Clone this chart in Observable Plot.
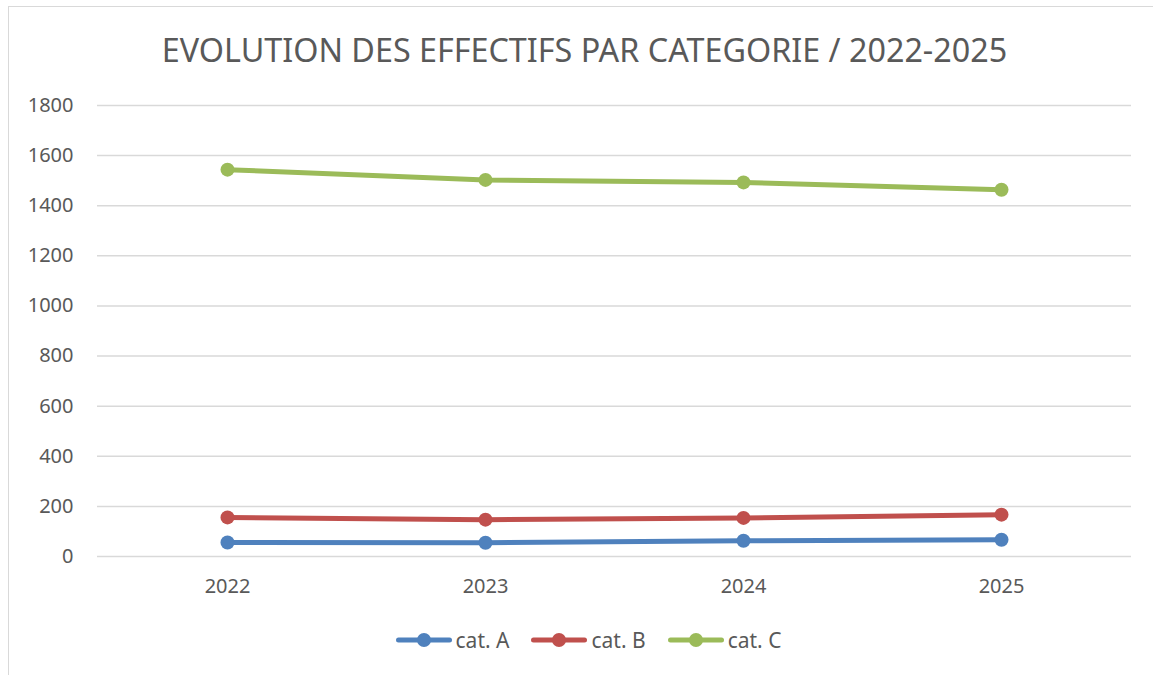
<!DOCTYPE html>
<html>
<head>
<meta charset="utf-8">
<script src="https://cdn.jsdelivr.net/npm/d3@7"></script>
<script src="https://cdn.jsdelivr.net/npm/@observablehq/plot@0.6"></script>
<style>
  html, body { margin: 0; padding: 0; background: #fff; overflow: hidden; width: 1153px; height: 675px; }
  #frame { position: absolute; left: 8px; top: 6px; width: 1300px; height: 800px; border-left: 1.5px solid #d9d9d9; border-top: 1.5px solid #d9d9d9; }
  #title { position: absolute; left: 0; width: 1169px; top: 27px; text-align: center; font-family: "Noto Sans", sans-serif; font-size: 32.3px; color: #595959; white-space: nowrap; }
  #chart { position: absolute; left: 0; top: 90px; }
  #legend { position: absolute; left: 0; width: 1177px; top: 626px; display: flex; justify-content: center; font-family: "Noto Sans", sans-serif; font-size: 21px; color: #595959; }
  .item { display: flex; align-items: center; margin: 0 11px; }
  .item svg { margin-right: 4px; }
</style>
</head>
<body>
<div id="frame"></div>
<div id="title">EVOLUTION DES EFFECTIFS PAR CATEGORIE / 2022-2025</div>
<div id="chart"></div>
<div id="legend"></div>
<script>
const years = ["2022", "2023", "2024", "2025"];
const seriesNames = ["cat. A", "cat. B", "cat. C"];
const catA = [56, 55, 63, 67];
const catB = [156, 147, 154, 167];
const catC = [1544, 1503, 1493, 1464];
const colors = ["#4f81bd", "#c0504d", "#9bbb59"];
const yTicks = [0, 200, 400, 600, 800, 1000, 1200, 1400, 1600, 1800];

const values = [catA, catB, catC];
const data = [];
values.forEach((arr, s) => arr.forEach((v, i) => data.push({series: seriesNames[s], year: years[i], value: v})));

const chart = Plot.plot({
  width: 1153,
  height: 516,
  marginLeft: 97,
  marginRight: 22,
  marginTop: 15,
  marginBottom: 50,
  style: {fontFamily: "Noto Sans, sans-serif", fontSize: "20px", color: "#595959", background: "transparent"},
  x: {type: "point", domain: years, padding: 0.5, label: null},
  y: {domain: [0, 1800], label: null},
  color: {domain: seriesNames, range: colors},
  marks: [
    Plot.ruleY(yTicks, {stroke: "#d9d9d9", strokeWidth: 1.5}),
    Plot.axisY({ticks: yTicks, tickFormat: d => String(d), tickSize: 0, tickPadding: 24, label: null, fill: "#595959"}),
    Plot.axisX({tickSize: 0, tickPadding: 22, label: null, fill: "#595959"}),
    Plot.line(data, {x: "year", y: "value", stroke: "series", z: "series", strokeWidth: 5, strokeLinecap: "round"}),
    Plot.dot(data, {x: "year", y: "value", fill: "series", r: 7})
  ]
});
document.getElementById("chart").appendChild(chart);

const legend = d3.select("#legend");
seriesNames.forEach((name, i) => {
  const item = legend.append("div").attr("class", "item");
  const svg = item.append("svg").attr("width", 56).attr("height", 20);
  svg.append("line").attr("x1", 2.5).attr("x2", 53.5).attr("y1", 10).attr("y2", 10)
    .attr("stroke", colors[i]).attr("stroke-width", 5).attr("stroke-linecap", "round");
  svg.append("circle").attr("cx", 28).attr("cy", 10).attr("r", 7).attr("fill", colors[i]);
  item.append("span").text(name);
});
</script>
</body>
</html>
